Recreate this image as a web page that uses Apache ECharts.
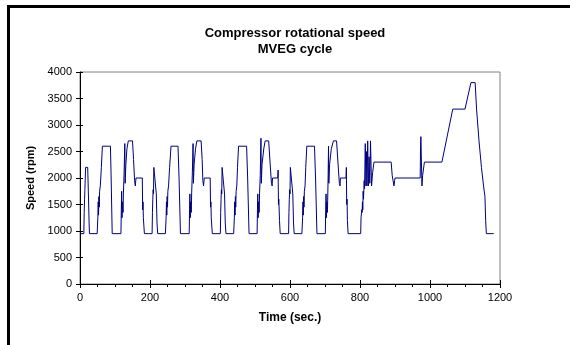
<!DOCTYPE html>
<html>
<head>
<meta charset="utf-8">
<script src="https://cdn.jsdelivr.net/npm/echarts@6/dist/echarts.min.js"></script>
<style>
html,body{margin:0;padding:0;background:#fff;}
#chart{width:570px;height:345px;}
</style>
</head>
<body>
<div id="chart"></div>
<script>
// Title and axis texts
const titleLines = ['Compressor rotational speed', 'MVEG cycle'];
const xName = 'Time (sec.)';
const yName = 'Speed (rpm)';

// Compressor speed [time (s), speed (rpm)], phase by phase
const urban1 = [[0,950],[11,950],[12,1350],[13,1600],[14,1780],[15,1750],[16,2200],[22,2200],[24,1700],[26,1150],[27,950],
  [49,950],[51,1250],[52,1550],[53,1300],[54,1650],[55,1450],[56,1750],[58,1850],[61,2200],[64,2600],[87,2600],[89,2000],[92,950],
  [117,950],[118,1400],[119,1750],[120,1250],[121,1550],[123,1350],[124,1700],[126,2100],[128,2650],[129,1900],[131,2250],[134,2550],[138,2700],[150,2700],[153,2350],[156,1950],[158,1850],[160,2000],[178,2000],[179,1400],[180,1550],[181,1250],[184,950]];
const urban2 = [[195,950],[206,950],[207,1350],[208,1600],[209,1780],[210,1700],[211,2200],[216,2200],[218,1700],[220,1150],[222,950],
  [244,950],[246,1250],[247,1550],[248,1300],[249,1650],[250,1450],[251,1750],[253,1850],[256,2200],[260,2600],[280,2600],[283,2000],[287,950],
  [312,950],[313,1400],[314,1700],[315,1250],[316,1550],[318,1350],[319,1700],[321,2100],[323,2650],[324,1900],[326,2250],[330,2550],[334,2700],[346,2700],[349,2350],[351,1950],[353,1850],[355,2000],[372,2000],[373,1450],[374,1550],[375,1250],[378,950]];
const urban3 = [[401,950],[402,1350],[403,1600],[404,1780],[405,1700],[406,2200],[411,2200],[413,1700],[415,1150],[417,950],
  [439,950],[441,1250],[442,1550],[443,1300],[444,1650],[445,1450],[446,1750],[448,1850],[450,2200],[453,2600],[476,2600],[479,2000],[483,950],
  [506,950],[507,1400],[508,1700],[509,1250],[510,1550],[512,1350],[513,1700],[515,2050],[517,2750],[518,1900],[520,2250],[525,2550],[529,2700],[539,2700],[543,2300],[547,1900],[549,1850],[550,2000],[565,2000],[566,2150],[567,1500],[568,1600],[570,1200],[572,950]];
const urban4 = [[596,950],[597,1350],[598,1600],[599,1780],[600,1700],[601,2200],[605,2200],[608,1700],[610,1150],[612,950],
  [634,950],[636,1250],[637,1550],[638,1300],[639,1650],[640,1450],[641,1750],[643,1850],[645,2200],[648,2600],[670,2600],[673,2000],[677,950],
  [701,950],[702,1400],[703,1700],[704,1250],[705,1550],[707,1350],[708,1700],[709,2050],[710,2600],[711,1900],[713,2250],[718,2550],[724,2700],[733,2700],[737,2300],[741,1900],[743,1850],[744,2000],[760,2000],[761,2200],[762,1500],[763,1600],[764,1200],[766,950]];
const extraUrban = [[802,950],[803,1250],[805,1400],[806,1350],[807,1550],[808,1400],[809,1750],[810,1600],[812,1950],[813,1800],[815,2650],[817,1850],[819,2500],[820,1850],[822,2700],[824,1850],[826,2400],[828,1900],[830,2700],[833,1850],[836,2100],[840,2300],
  [889,2300],[892,2050],[897,1850],[899,1950],[900,2000],[972,2000],[973,2600],[974,2780],[975,2450],[977,1850],[979,2050],[984,2300],
  [1034,2300],[1065,3300],[1100,3300],[1117,3800],[1129,3800],[1133,3300],[1140,2700],[1147,2200],[1153,1850],[1156,1850],[1157,1650],[1159,1200],[1161,950],[1182,950]];

const seriesData = [].concat(urban1, urban2, urban3, urban4, extraUrban);

const FONT = 'Liberation Sans';
const chart = echarts.init(document.getElementById('chart'), null, {renderer: 'canvas'});

const baseX = {type: 'value', min: 0, max: 1200, interval: 200, gridIndex: 0, position: 'bottom'};
const baseY = {type: 'value', min: 0, max: 4000, interval: 500, gridIndex: 0, position: 'left'};
const plain = v => String(v);

chart.setOption({
  animation: false,
  backgroundColor: '#ffffff',
  title: {
    text: titleLines.join('\n'),
    left: 290, top: 20, textAlign: 'center',
    textStyle: {fontFamily: FONT, fontSize: 13, fontWeight: 'bold', color: '#000', lineHeight: 16}
  },
  grid: {left: 80, right: 70, top: 72, bottom: 61, show: true, borderColor: '#808080', borderWidth: 1, backgroundColor: '#fff'},
  xAxis: [
    Object.assign({}, baseX, {
      name: xName, nameLocation: 'middle', nameGap: 28,
      nameTextStyle: {fontFamily: FONT, fontSize: 12, fontWeight: 'bold', color: '#000'},
      axisLine: {show: true, onZero: false, lineStyle: {color: '#000', width: 1}},
      axisTick: {show: true, inside: false, length: 4, lineStyle: {color: '#000'}},
      minorTick: {show: true, splitNumber: 4, length: 3, lineStyle: {color: '#000'}},
      axisLabel: {fontFamily: FONT, fontSize: 11, color: '#000', margin: 8, formatter: plain},
      splitLine: {show: false}, minorSplitLine: {show: false}
    }),
    Object.assign({}, baseX, {
      axisLine: {show: false},
      axisTick: {show: true, inside: true, length: 4, lineStyle: {color: '#000'}},
      axisLabel: {show: false}, splitLine: {show: false}
    })
  ],
  yAxis: [
    Object.assign({}, baseY, {
      name: yName, nameLocation: 'middle', nameGap: 37,
      nameTextStyle: {fontFamily: FONT, fontSize: 11, fontWeight: 'bold', color: '#000'},
      axisLine: {show: true, onZero: false, lineStyle: {color: '#000', width: 1}},
      axisTick: {show: true, inside: false, length: 4, lineStyle: {color: '#000'}},
      axisLabel: {fontFamily: FONT, fontSize: 11, color: '#000', margin: 8, formatter: plain},
      splitLine: {show: false}
    }),
    Object.assign({}, baseY, {
      axisLine: {show: false},
      axisTick: {show: true, inside: true, length: 3, lineStyle: {color: '#000'}},
      axisLabel: {show: false}, splitLine: {show: false}
    })
  ],
  series: [{
    type: 'line', xAxisIndex: 0, yAxisIndex: 0,
    data: seriesData, showSymbol: false, symbol: 'none',
    lineStyle: {color: '#000080', width: 1}, z: 3
  }],
  graphic: [
    {type: 'rect', shape: {x: 7, y: 5, width: 3, height: 340}, style: {fill: '#000'}, z: 10},
    {type: 'rect', shape: {x: 7, y: 5, width: 563, height: 3}, style: {fill: '#000'}, z: 10}
  ]
});
</script>
</body>
</html>
